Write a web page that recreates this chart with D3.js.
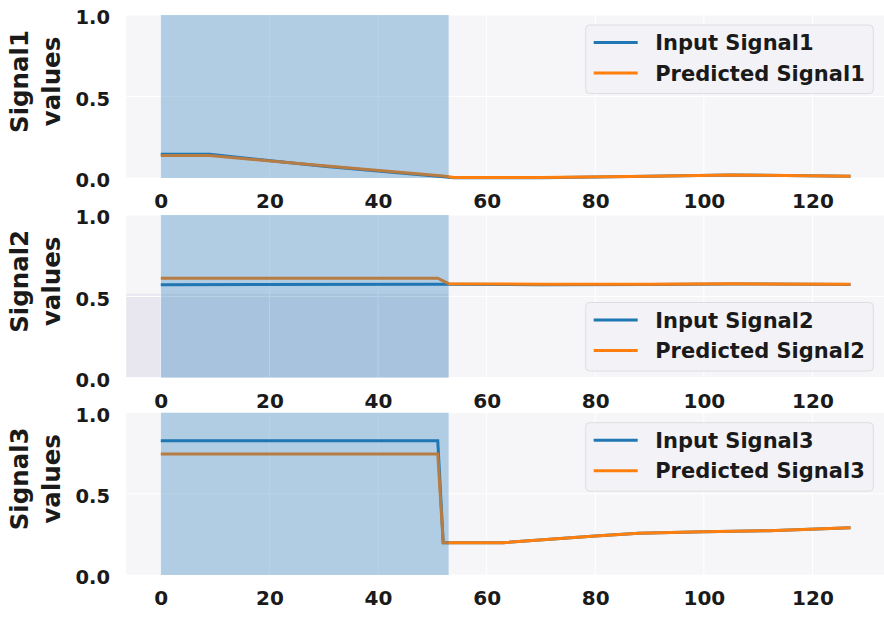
<html>
<head>
<meta charset="utf-8">
<script src="https://d3js.org/d3.v7.min.js"></script>
<style>
  body { margin: 0; background: #ffffff; }
  svg { display: block; }
  text { font-family: "DejaVu Sans", sans-serif; font-weight: bold; fill: #1a1a1a; }
</style>
</head>
<body>
<div id="chart"></div>
<script>

// ---- data ----
const xTicks = [0, 20, 40, 60, 80, 100, 120];
const yTicks = [0.0, 0.5, 1.0];
const spanEnd = 53;          // shaded input window
const xLast = 127;

const s1X     = [0, 9, 30, 52, 54, 70, 90, 105, 115, 127];
const s1Input = [0.145, 0.145, 0.072, 0.008, 0.002, 0.002, 0.010, 0.018, 0.015, 0.010];
const s1Pred  = [0.138, 0.138, 0.075, 0.012, 0.003, 0.003, 0.011, 0.019, 0.016, 0.011];

const s2X     = [0, 51, 53, 70, 90, 105, 127];
const s2Input = [0.572, 0.575, 0.575, 0.572, 0.573, 0.576, 0.573];
const s2Pred  = [0.612, 0.612, 0.578, 0.574, 0.574, 0.577, 0.574];

const s3X     = [0, 51, 52, 63, 80, 88, 100, 112, 127];
const s3Input = [0.827, 0.827, 0.199, 0.199, 0.240, 0.257, 0.267, 0.273, 0.291];
const s3Pred  = [0.745, 0.745, 0.199, 0.199, 0.240, 0.257, 0.267, 0.273, 0.291];

const names = ["Signal1", "Signal2", "Signal3"];

const W = 884, H = 617;
const blue = "#1f77b4", orange = "#ff7f0e";

const svg = d3.select("#chart").append("svg").attr("width", W).attr("height", H);

const x = d3.scaleLinear().domain([-0.05 * xLast, 1.05 * xLast]).range([126.3, 885]);

// panel boxes (top, bottom) and legend placement
const panels = [
  { name: names[0], xs: s1X, inp: s1Input, pred: s1Pred, top: 15,    bottom: 178,   legend: "top" },
  { name: names[1], xs: s2X, inp: s2Input, pred: s2Pred, top: 215,   bottom: 377.7, legend: "bottom", patch: true },
  { name: names[2], xs: s3X, inp: s3Input, pred: s3Pred, top: 412.7, bottom: 575,   legend: "top" }
];

panels.forEach(p => {
  const y = d3.scaleLinear().domain([0, 1]).range([p.bottom, p.top]);
  const g = svg.append("g");

  // background
  g.append("rect")
    .attr("x", x.range()[0]).attr("y", p.top)
    .attr("width", x.range()[1] - x.range()[0]).attr("height", p.bottom - p.top)
    .attr("fill", "#f6f6f9");

  // darker leftover patch in the middle panel
  if (p.patch) {
    g.append("rect")
      .attr("x", x.range()[0]).attr("y", y(0.515))
      .attr("width", x(spanEnd) - x.range()[0]).attr("height", y(0) - y(0.515))
      .attr("fill", "#e8e7f0");
  }

  // grid
  g.selectAll(".gx").data(xTicks).join("line")
    .attr("x1", d => x(d)).attr("x2", d => x(d))
    .attr("y1", p.top).attr("y2", p.bottom)
    .attr("stroke", "#ffffff").attr("stroke-width", 1);
  g.selectAll(".gy").data(yTicks).join("line")
    .attr("x1", x.range()[0]).attr("x2", x.range()[1])
    .attr("y1", d => y(d)).attr("y2", d => y(d))
    .attr("stroke", "#ffffff").attr("stroke-width", 1);

  // lines
  const line = vals => d3.line().x((d, i) => x(p.xs[i])).y(d => y(d))(vals);
  g.append("path").attr("d", line(p.inp)).attr("fill", "none")
    .attr("stroke", blue).attr("stroke-width", 3);
  g.append("path").attr("d", line(p.pred)).attr("fill", "none")
    .attr("stroke", orange).attr("stroke-width", 3);

  // shaded input span drawn over the lines
  g.append("rect")
    .attr("x", x(0)).attr("y", p.top)
    .attr("width", x(spanEnd) - x(0)).attr("height", p.bottom - p.top)
    .attr("fill", blue).attr("fill-opacity", 0.32);

  // axes (labels only)
  const xa = d3.axisBottom(x).tickValues(xTicks).tickSize(0).tickPadding(0).tickFormat(d3.format("d"));
  const gx = g.append("g").attr("transform", `translate(0,${p.bottom})`).call(xa);
  gx.select(".domain").remove();
  gx.selectAll("text").attr("y", 30).attr("dy", null).style("font-size", "20px")
    .style("font-family", "DejaVu Sans").style("font-weight", "bold").attr("fill", "#1a1a1a");

  const ya = d3.axisLeft(y).tickValues(yTicks).tickSize(0).tickPadding(0).tickFormat(d3.format(".1f"));
  const gy = g.append("g").attr("transform", "translate(110,0)").call(ya);
  gy.select(".domain").remove();
  gy.selectAll("text").attr("x", 0).attr("dy", "0.45em").style("font-size", "19.5px")
    .style("font-family", "DejaVu Sans").style("font-weight", "bold").attr("fill", "#1a1a1a");

  // y label, two lines
  const cy = (p.top + p.bottom) / 2 - 15;
  const lab = g.append("text")
    .attr("transform", `translate(28,${cy}) rotate(-90)`)
    .attr("text-anchor", "middle").style("font-size", "24.5px");
  lab.append("tspan").attr("x", 0).attr("y", 0).text(p.name);
  lab.append("tspan").attr("x", 0).attr("y", 32).text("values");

  // legend
  const lx = 585.7, lw = 287.6, lh = 68.5;
  const ly = p.legend === "top" ? p.top + 10 : p.bottom - 6.7 - lh;
  const lg = g.append("g").attr("transform", `translate(${lx},${ly})`);
  lg.append("rect").attr("width", lw).attr("height", lh).attr("rx", 4)
    .attr("fill", "#f3f3f7").attr("stroke", "#dedee2").attr("stroke-width", 1);
  const items = [["Input " + p.name, blue], ["Predicted " + p.name, orange]];
  items.forEach((it, i) => {
    const yy = 17.5 + i * 30.5;
    lg.append("line").attr("x1", 8).attr("x2", 52).attr("y1", yy).attr("y2", yy)
      .attr("stroke", it[1]).attr("stroke-width", 3);
    lg.append("text").attr("x", 69.5).attr("y", yy).attr("dy", "0.36em")
      .style("font-size", "21px").text(it[0]);
  });
});

</script>
</body>
</html>
